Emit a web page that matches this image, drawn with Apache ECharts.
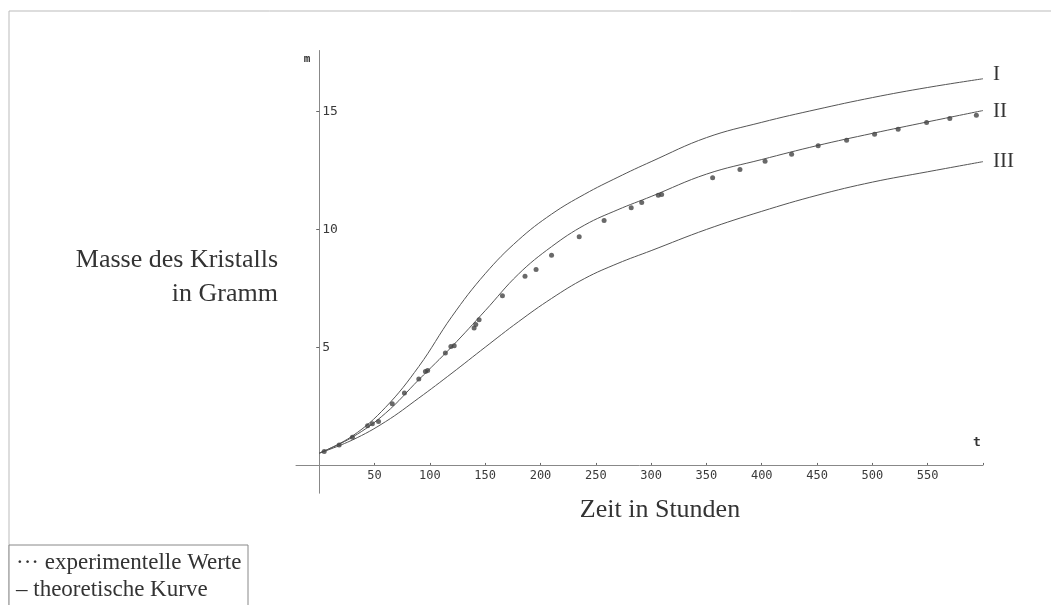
<!DOCTYPE html>
<html>
<head>
<meta charset="utf-8">
<script src="https://cdn.jsdelivr.net/npm/echarts@6/dist/echarts.min.js"></script>
<style>
  html, body { margin: 0; padding: 0; background: #fff; }
  #chart { width: 1051px; height: 605px; }
</style>
</head>
<body>
<div id="chart"></div>
<script>
// experimental measurements (hours, grams)
const expHours = [4.5, 18, 30, 43.7, 48, 53.6, 66, 77, 90, 96, 98, 114, 119, 122, 140, 141.5, 144.5,
  165.6, 186, 196, 210, 235, 257.5, 282, 291.5, 306.5, 309.5, 355.6, 380.3, 403, 427, 451, 476.7,
  502, 523.3, 549, 570, 594];
const expMass = [0.57, 0.85, 1.18, 1.66, 1.75, 1.84, 2.6, 3.05, 3.65, 3.97, 4.01, 4.75, 5.03, 5.06, 5.82, 5.96, 6.17,
  7.19, 8.01, 8.3, 8.91, 9.69, 10.38, 10.92, 11.14, 11.45, 11.49, 12.2, 12.55, 12.9, 13.19, 13.55, 13.79,
  14.04, 14.26, 14.54, 14.71, 14.85];

// theoretical curves, read at these hours
const curveHours = [0, 30, 60, 90, 120, 150, 180, 210, 240, 270, 300, 350, 400, 450, 500, 550, 600];
const curveI = [0.5, 1.23, 2.45, 4.18, 6.31, 8.12, 9.55, 10.65, 11.5, 12.22, 12.88, 13.9, 14.55, 15.1, 15.6, 16.03, 16.4];
const curveII = [0.5, 1.18, 2.2, 3.62, 5.03, 6.55, 8.1, 9.27, 10.19, 10.84, 11.4, 12.35, 12.97, 13.56, 14.08, 14.57, 15.05];
const curveIII = [0.5, 1.06, 1.84, 2.84, 3.9, 5.0, 6.08, 7.07, 7.92, 8.56, 9.1, 10.0, 10.77, 11.45, 12.01, 12.45, 12.88];

const xTicks = [50, 100, 150, 200, 250, 300, 350, 400, 450, 500, 550];
const yTicks = [5, 10, 15];

// axis ranges: the axes cross at (0, 0) but run a little past it
const xMin = -21, xMax = 600;
const yMin = -1.2, yMax = 17.6;

const serif = '"Liberation Serif", "DejaVu Serif", serif';
const mono = '"DejaVu Sans Mono", "Liberation Mono", monospace';

const gridBox = { left: 296, top: 50.5, width: 687, height: 442.7 };
// shift each axis from the grid edge onto the zero line of the other axis
const yAxisShift = -gridBox.width * (0 - xMin) / (xMax - xMin);
const xAxisShift = -gridBox.height * (0 - yMin) / (yMax - yMin);

function pairs(xs, ys) {
  return xs.map((x, i) => [x, ys[i]]);
}

function curveSeries(name, values, labelOffset) {
  return {
    name: name,
    type: 'line',
    smooth: 0.4,
    symbol: 'none',
    data: pairs(curveHours, values),
    lineStyle: { color: '#555', width: 1 },
    endLabel: {
      show: true,
      formatter: name,
      distance: 10,
      offset: labelOffset,
      fontFamily: serif,
      fontSize: 21,
      color: '#333'
    },
    z: 2
  };
}

function label(x, y, text, size, align) {
  return {
    type: 'text', x: x, y: y,
    style: { text: text, font: size + 'px ' + serif, fill: '#333', textAlign: align, textVerticalAlign: 'middle' }
  };
}

const chart = echarts.init(document.getElementById('chart'));

chart.setOption({
  backgroundColor: '#fff',
  animation: false,
  grid: gridBox,
  xAxis: {
    type: 'value',
    min: xMin,
    max: xMax,
    offset: xAxisShift,
    splitLine: { show: false },
    axisLine: { onZero: false, lineStyle: { color: '#888', width: 1 } },
    axisTick: { inside: true, length: 2, customValues: xTicks.concat([600]), lineStyle: { color: '#666' } },
    axisLabel: {
      customValues: xTicks,
      margin: 5,
      fontFamily: mono,
      fontSize: 12,
      color: '#3a3a3a'
    }
  },
  yAxis: {
    type: 'value',
    min: yMin,
    max: yMax,
    offset: yAxisShift,
    splitLine: { show: false },
    axisLine: { onZero: false, lineStyle: { color: '#888', width: 1 } },
    axisTick: { length: 3, customValues: yTicks, lineStyle: { color: '#666' } },
    axisLabel: {
      inside: true,
      customValues: yTicks,
      margin: 3,
      fontFamily: mono,
      fontSize: 13,
      color: '#3a3a3a'
    }
  },
  series: [
    curveSeries('I', curveI, [0, -4]),
    curveSeries('II', curveII, [0, 1]),
    curveSeries('III', curveIII, [0, 0]),
    {
      name: 'experimentelle Werte',
      type: 'scatter',
      data: pairs(expHours, expMass),
      symbol: 'circle',
      symbolSize: 5,
      itemStyle: { color: '#444' },
      z: 3
    }
  ],
  graphic: [
    { type: 'line', shape: { x1: 9, y1: 11, x2: 1051, y2: 11 }, style: { stroke: '#bbb', lineWidth: 1 } },
    { type: 'line', shape: { x1: 9, y1: 11, x2: 9, y2: 605 }, style: { stroke: '#bbb', lineWidth: 1 } },
    { type: 'text', x: 307, y: 59, style: { text: 'm', font: 'bold 11px ' + mono, fill: '#333', textAlign: 'center', textVerticalAlign: 'middle' } },
    { type: 'text', x: 977, y: 443, style: { text: 't', font: 'bold 13px ' + mono, fill: '#333', textAlign: 'center', textVerticalAlign: 'middle' } },
    label(278, 260, 'Masse des Kristalls', 26, 'right'),
    label(278, 294, 'in Gramm', 26, 'right'),
    label(660, 510, 'Zeit in Stunden', 26, 'center'),
    { type: 'rect', shape: { x: 9, y: 545, width: 239, height: 70 }, style: { fill: '#fff', stroke: '#888', lineWidth: 1 } },
    label(16, 563, '··· experimentelle Werte', 23, 'left'),
    label(16, 590, '– theoretische Kurve', 23, 'left')
  ]
});
</script>
</body>
</html>
